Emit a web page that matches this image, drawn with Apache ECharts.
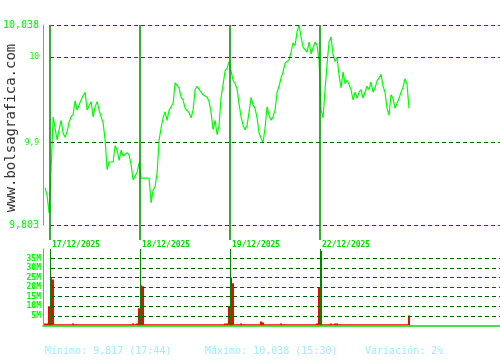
<!DOCTYPE html>
<html>
<head>
<meta charset="utf-8">
<script src="https://cdn.jsdelivr.net/npm/echarts@6/dist/echarts.min.js"></script>
<style>html,body{margin:0;padding:0;background:#fff;}#c{width:500px;height:360px;}</style>
</head>
<body>
<div id="c"></div>
<script>
// ---- data ----
const dayLabels = ['17/12/2025', '18/12/2025', '19/12/2025', '22/12/2025'];
const daySlots = [7, 97, 187, 277];          // session starts on the time axis
const axisSlots = 457;                         // time-axis length (slots)
const priceTicks = [9.803, 9.9, 10, 10.038];
const volumeTicks = [5, 10, 15, 20, 25, 30, 35];
const priceStart = 2, priceStep = 2;
const prices = [
  9.847, 9.837, 9.817, 9.870, 9.930, 9.929, 9.903, 9.915, 9.926, 9.911,
  9.906, 9.913, 9.924, 9.930, 9.933, 9.949, 9.938, 9.936, 9.950, 9.955,
  9.959, 9.938, 9.936, 9.948, 9.930, 9.942, 9.948, 9.938, 9.930, 9.923,
  9.903, 9.868, 9.877, 9.875, 9.877, 9.896, 9.891, 9.879, 9.891, 9.884,
  9.882, 9.888, 9.885, 9.874, 9.856, 9.858, 9.865, 9.876, 9.858, 9.856,
  9.858, 9.856, 9.858, 9.829, 9.844, 9.848, 9.864, 9.903, 9.917, 9.929,
  9.936, 9.926, 9.938, 9.942, 9.946, 9.970, 9.971, 9.964, 9.953, 9.950,
  9.940, 9.938, 9.935, 9.929, 9.938, 9.962, 9.966, 9.968, 9.959, 9.956,
  9.956, 9.953, 9.948, 9.935, 9.915, 9.926, 9.909, 9.920, 9.953, 9.968,
  9.984, 9.987, 9.995, 9.993, 9.973, 9.969, 9.963, 9.945, 9.930, 9.920,
  9.915, 9.920, 9.936, 9.953, 9.944, 9.940, 9.929, 9.911, 9.905, 9.900,
  9.917, 9.942, 9.932, 9.926, 9.930, 9.938, 9.959, 9.966, 9.976, 9.983,
  9.993, 9.993, 9.997, 10.006, 10.017, 10.014, 10.030, 10.038, 10.024, 10.012,
  10.009, 10.006, 10.018, 10.004, 10.005, 10.018, 10.014, 9.997, 9.938, 9.929,
  9.962, 9.992, 10.018, 10.024, 10.003, 9.995, 10.000, 9.979, 9.964, 9.983,
  9.969, 9.973, 9.968, 9.962, 9.950, 9.959, 9.952, 9.959, 9.962, 9.952,
  9.950, 9.966, 9.962, 9.971, 9.959, 9.964, 9.972, 9.973, 9.980, 9.966,
  9.959, 9.940, 9.932, 9.956, 9.952, 9.940, 9.940, 9.952, 9.959, 9.965,
  9.975, 9.968, 9.940
];
// volume in millions, same time steps as prices
const volumes = [
  1, 1, 10, 25, 24, 0.6, 0.6, 0.6, 0.6, 0.6,
  0.6, 0.6, 0.6, 0.6, 1, 0.6, 0.6, 0.6, 0.6, 0.6,
  0.6, 0.6, 0.6, 0.6, 0.6, 0.6, 0.6, 0.6, 0.6, 0.6,
  0.6, 0.6, 0.6, 0.6, 0.6, 0.6, 0.6, 0.6, 0.6, 0.6,
  0.6, 0.6, 0.6, 0.6, 1, 0.6, 1, 9, 21, 20.5,
  0.6, 0.6, 0.6, 0.6, 0.6, 0.6, 0.6, 0.6, 0.6, 0.6,
  0.6, 0.6, 0.6, 0.6, 0.6, 0.6, 0.6, 0.6, 0.6, 0.6,
  0.6, 0.6, 0.6, 0.6, 0.6, 0.6, 0.6, 0.6, 0.6, 0.6,
  0.6, 0.6, 0.6, 0.6, 0.6, 0.6, 0.6, 0.6, 0.6, 0.6,
  1, 1, 10, 25, 22, 0.6, 0.6, 0.6, 1, 0.6,
  0.6, 0.6, 0.6, 0.6, 0.6, 0.6, 0.6, 0.6, 2, 1.5,
  0.6, 0.6, 0.6, 0.6, 0.6, 0.6, 0.6, 0.6, 1, 0.6,
  0.6, 0.6, 0.6, 0.6, 0.6, 0.6, 0.6, 0.6, 0.6, 0.6,
  0.6, 0.6, 0.6, 0.6, 0.6, 0.6, 1, 20, 39, 0.6,
  0.6, 0.6, 0.6, 1, 0.6, 1, 1, 0.6, 0.6, 0.6,
  0.6, 0.6, 0.6, 0.6, 0.6, 0.6, 0.6, 0.6, 0.6, 0.6,
  0.6, 0.6, 0.6, 0.6, 0.6, 0.6, 0.6, 0.6, 0.6, 0.6,
  0.6, 0.6, 0.6, 0.6, 0.6, 0.6, 0.6, 0.6, 0.6, 0.6,
  0.6, 0.6, 5.2
];
const statsTexts = ['Mínimo: 9,817 (17:44)', 'Máximo: 10,038 (15:30)', 'Variación: 2%'];
const siteTitle = 'www.bolsagrafica.com';

// ---- chart ----
const MONO = 'DejaVu Sans Mono';
const pricePairs = prices.map((v, i) => [priceStart + i * priceStep, v]);
const volPairs = volumes.map((v, i) => [priceStart + i * priceStep, v]);
const dashStyle = { type: [4, 3], color: '#006000', width: 1 };
const fmtNum = v => String(v).replace('.', ',');

const chart = echarts.init(document.getElementById('c'), null, { renderer: 'canvas' });
chart.setOption({
  animation: false,
  backgroundColor: '#ffffff',
  grid: [
    { left: 43, top: 25, width: 457, height: 200 },
    { left: 43, top: 249, width: 457, height: 76.3 },
    { left: 43, top: 25, width: 457, height: 215 }
  ],
  xAxis: [
    { gridIndex: 0, type: 'value', min: 0, max: axisSlots, show: false },
    { gridIndex: 1, type: 'value', min: 0, max: axisSlots, offset: 1,
      axisLine: { show: true, lineStyle: { color: '#00e000', width: 1.6 } },
      axisTick: { show: false }, axisLabel: { show: false }, splitLine: { show: false } },
    { gridIndex: 2, type: 'value', min: 0, max: axisSlots,
      axisLine: { show: false }, axisTick: { show: false }, splitLine: { show: false },
      axisLabel: {
        customValues: daySlots,
        formatter: v => dayLabels[daySlots.indexOf(v)] || '',
        align: 'left', margin: 1, padding: [0, 0, 0, 2],
        color: '#00e000', fontFamily: MONO, fontSize: 8, fontWeight: 'bold'
      } }
  ],
  yAxis: [
    { gridIndex: 0, type: 'value', min: priceTicks[0], max: priceTicks[priceTicks.length - 1],
      axisLine: { show: true, lineStyle: { color: '#00ff00', width: 1 } },
      axisTick: { show: false }, splitLine: { show: false },
      axisLabel: {
        customValues: priceTicks, margin: 4,
        formatter: v => (v === priceTicks[0] || v === priceTicks[priceTicks.length - 1])
          ? '{big|' + fmtNum(v) + '}' : '{small|' + fmtNum(v) + '}',
        rich: {
          big: { fontFamily: MONO, fontSize: 10, color: '#00ff00' },
          small: { fontFamily: MONO, fontSize: 8, color: '#00ff00' }
        }
      } },
    { gridIndex: 1, type: 'value', min: 0, max: 40, interval: 5,
      axisLine: { show: true, lineStyle: { color: '#00ff00', width: 1 } },
      axisTick: { show: false }, splitLine: { show: false },
      axisLabel: {
        margin: 2, color: '#00ff00', fontFamily: MONO, fontSize: 8, fontWeight: 'bold',
        formatter: v => (volumeTicks.indexOf(v) >= 0 ? v + 'M' : '')
      } },
    { gridIndex: 2, type: 'value', min: 0, max: 1, show: false }
  ],
  series: [
    { type: 'line', xAxisIndex: 0, yAxisIndex: 0, data: pricePairs,
      showSymbol: false, symbol: 'none', lineStyle: { color: '#00ff00', width: 1.2 }, z: 3,
      markLine: { silent: true, symbol: 'none', label: { show: false }, lineStyle: dashStyle,
        data: priceTicks.map(v => [{ coord: [daySlots[0], v] }, { coord: [axisSlots, v] }]) } },
    { type: 'line', xAxisIndex: 2, yAxisIndex: 2, data: [[0, 0]], showSymbol: false, symbol: 'none',
      lineStyle: { opacity: 0 }, z: 2,
      markLine: { silent: true, symbol: 'none', label: { show: false },
        lineStyle: { type: 'solid', color: '#009a00', width: 1.6 },
        data: daySlots.map(s => ({ xAxis: s })) } },
    { type: 'bar', xAxisIndex: 1, yAxisIndex: 1, data: volPairs, barWidth: 2,
      itemStyle: { color: '#ff0000' }, z: 3,
      markLine: { silent: true, symbol: 'none', label: { show: false }, lineStyle: dashStyle,
        data: volumeTicks.map(v => [{ coord: [daySlots[0] + 1, v] }, { coord: [axisSlots, v] }])
          .concat(daySlots.map(s => ({ xAxis: s, lineStyle: { type: 'solid', color: '#008800', width: 1 } }))) } }
  ],
  graphic: [
    { type: 'text', x: 11, y: 128, rotation: Math.PI / 2,
      style: { text: siteTitle, fontFamily: MONO, fontSize: 14, fill: '#333333',
        textAlign: 'center', textVerticalAlign: 'middle' } },
    { type: 'text', x: 45, y: 351, style: { text: statsTexts[0], fontFamily: MONO, fontSize: 10,
        fill: '#a6ecff', textVerticalAlign: 'middle' } },
    { type: 'text', x: 205, y: 351, style: { text: statsTexts[1], fontFamily: MONO, fontSize: 10,
        fill: '#a6ecff', textVerticalAlign: 'middle' } },
    { type: 'text', x: 365, y: 351, style: { text: statsTexts[2], fontFamily: MONO, fontSize: 10,
        fill: '#a6ecff', textVerticalAlign: 'middle' } }
  ]
});
</script>
</body>
</html>
